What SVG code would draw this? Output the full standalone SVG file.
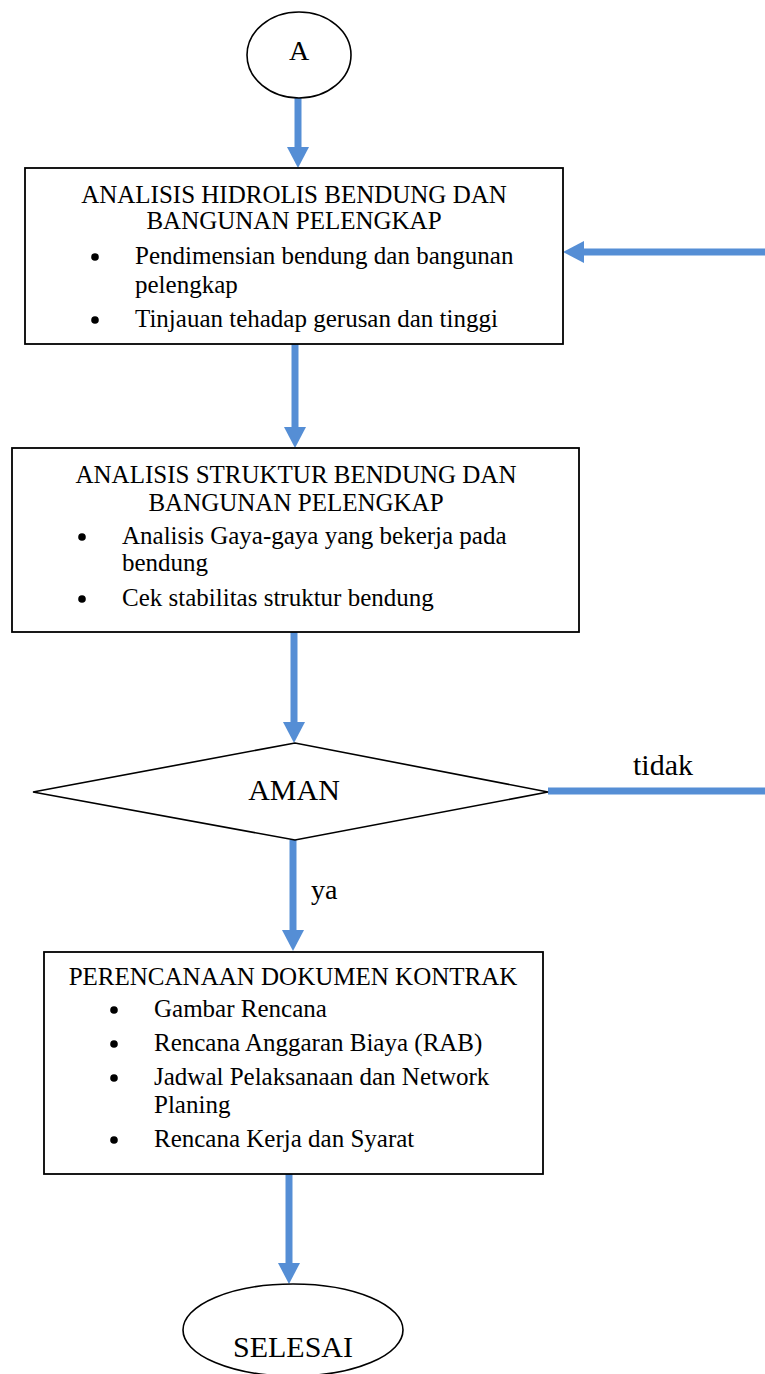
<svg xmlns="http://www.w3.org/2000/svg" width="765" height="1374" viewBox="0 0 765 1374">
<style>
.box{fill:#fff;stroke:#000;stroke-width:1.8}
.shape{fill:#fff;stroke:#000;stroke-width:1.6}
.t{font-family:"Liberation Serif","Times New Roman",serif;font-size:25px;fill:#000}
.tc{text-anchor:middle}
.big{font-size:30px}
.conn{stroke:#558ED5;stroke-width:7;fill:none}
.dot{fill:#000}
</style>
<defs>
<marker id="ah" markerUnits="userSpaceOnUse" markerWidth="22" markerHeight="22" refX="0" refY="11" orient="auto" viewBox="0 0 22 22">
<path d="M0,0 L21,11 L0,22 z" fill="#558ED5"/>
</marker>
</defs>
<g id="connectors">
<line class="conn" x1="298" y1="98" x2="298" y2="147" marker-end="url(#ah)"/>
<line class="conn" x1="765" y1="252" x2="584" y2="252" marker-end="url(#ah)"/>
<line class="conn" x1="295" y1="344" x2="295" y2="427" marker-end="url(#ah)"/>
<line class="conn" x1="294" y1="632" x2="294" y2="722" marker-end="url(#ah)"/>
<line class="conn" x1="548" y1="791" x2="765" y2="791"/>
<line class="conn" x1="293" y1="840" x2="293" y2="930" marker-end="url(#ah)"/>
<line class="conn" x1="289" y1="1174" x2="289" y2="1263" marker-end="url(#ah)"/>
<text class="t big" x="633" y="775">tidak</text>
<text class="t" x="311" y="899" style="font-size:28px">ya</text>
</g>
<g id="start">
<ellipse class="shape" cx="299" cy="55" rx="52" ry="43"/>
<text class="t tc" x="299" y="60" style="font-size:28px">A</text>
</g>
<g id="box1">
<rect class="box" x="25" y="168" width="538" height="176"/>
<text class="t tc" x="294" y="203">ANALISIS HIDROLIS BENDUNG DAN</text>
<text class="t tc" x="294" y="229">BANGUNAN PELENGKAP</text>
<circle class="dot" cx="95" cy="257" r="3.8"/>
<text class="t" x="135" y="264">Pendimensian bendung dan bangunan</text>
<text class="t" x="135" y="293">pelengkap</text>
<circle class="dot" cx="95" cy="320" r="3.8"/>
<text class="t" x="135" y="327">Tinjauan tehadap gerusan dan tinggi</text>
</g>
<g id="box2">
<rect class="box" x="12" y="448" width="567" height="184"/>
<text class="t tc" x="296" y="483">ANALISIS STRUKTUR BENDUNG DAN</text>
<text class="t tc" x="296" y="511">BANGUNAN PELENGKAP</text>
<circle class="dot" cx="82" cy="537" r="3.8"/>
<text class="t" x="122" y="544">Analisis Gaya-gaya yang bekerja pada</text>
<text class="t" x="122" y="571">bendung</text>
<circle class="dot" cx="82" cy="599" r="3.8"/>
<text class="t" x="122" y="606">Cek stabilitas struktur bendung</text>
</g>
<g id="decision">
<polygon class="shape" points="33,792 295,743 548,792 295,840"/>
<text class="t tc big" x="294" y="800">AMAN</text>
</g>
<g id="box3">
<rect class="box" x="44" y="952" width="499" height="222"/>
<text class="t tc" x="293" y="985">PERENCANAAN DOKUMEN KONTRAK</text>
<circle class="dot" cx="114" cy="1010" r="3.8"/>
<text class="t" x="154" y="1017">Gambar Rencana</text>
<circle class="dot" cx="114" cy="1044" r="3.8"/>
<text class="t" x="154" y="1051">Rencana Anggaran Biaya (RAB)</text>
<circle class="dot" cx="114" cy="1078" r="3.8"/>
<text class="t" x="154" y="1085">Jadwal Pelaksanaan dan Network</text>
<text class="t" x="154" y="1113">Planing</text>
<circle class="dot" cx="114" cy="1140" r="3.8"/>
<text class="t" x="154" y="1147">Rencana Kerja dan Syarat</text>
</g>
<g id="end">
<ellipse class="shape" cx="293" cy="1330" rx="110" ry="46"/>
<text class="t tc big" x="293" y="1357">SELESAI</text>
</g>
</svg>
